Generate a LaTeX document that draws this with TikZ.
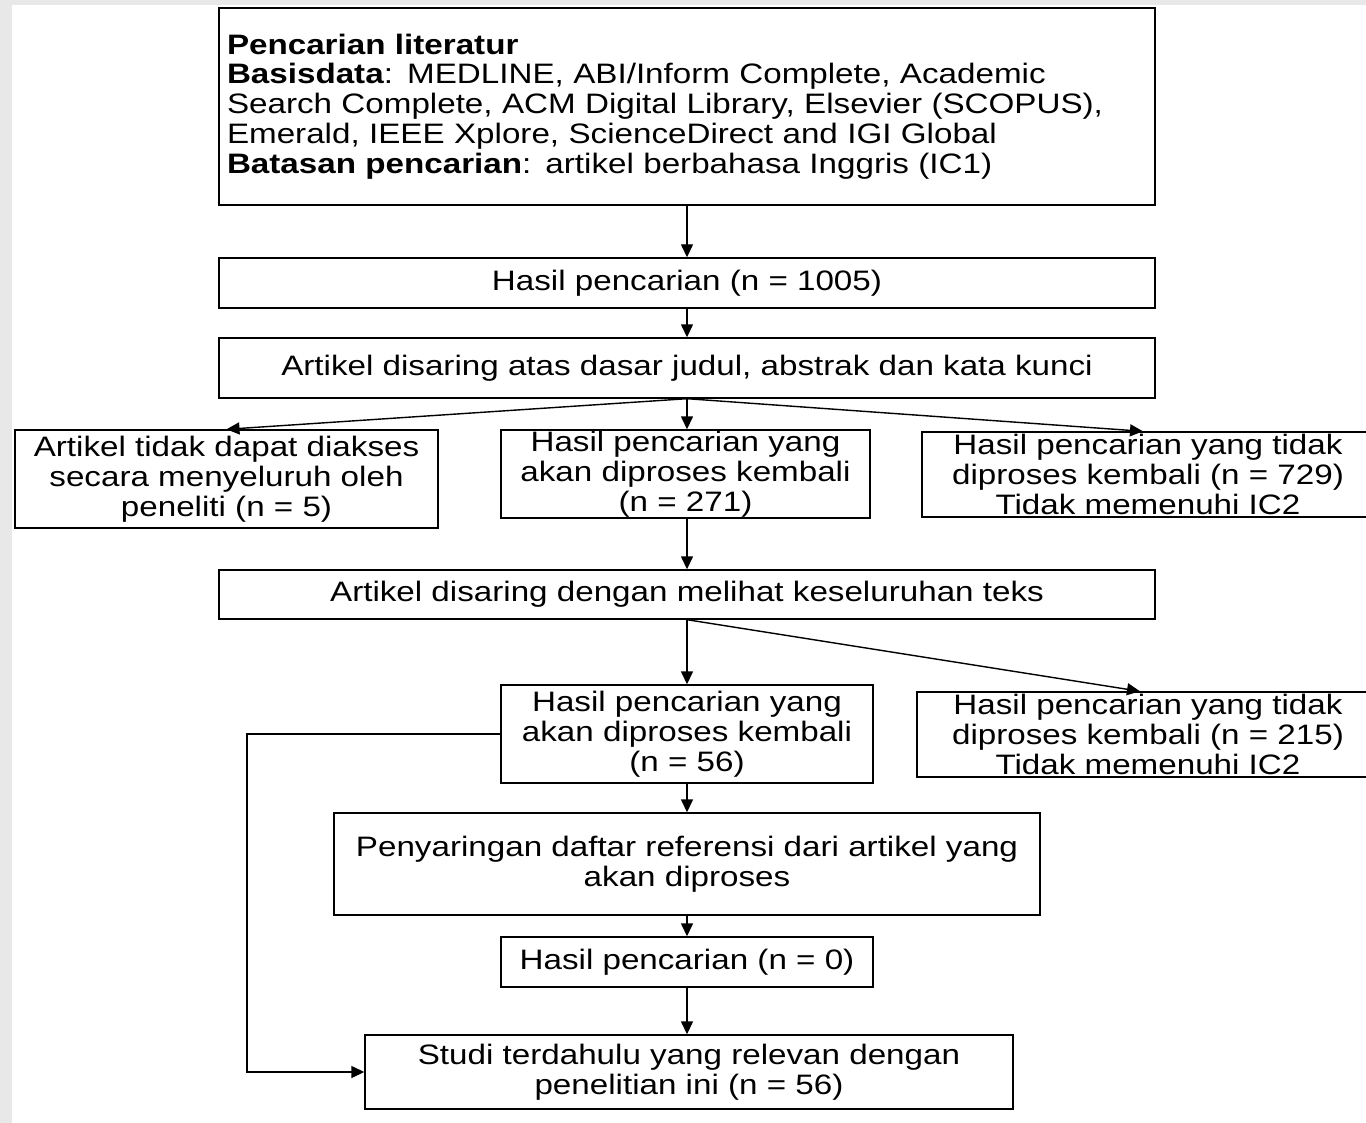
\documentclass[tikz,border=0pt]{standalone}
\usepackage{fontspec}
\setmainfont[FakeStretch=1.18]{Liberation Sans}
\usetikzlibrary{arrows.meta}
\begin{document}
\begin{tikzpicture}[
        kotak/.style={draw, line width=0.8pt, inner sep=0pt, align=center,
            font=\fontsize{16}{17}\selectfont},
        >={Triangle[length=2.6mm,width=2.4mm]}, line width=0.8pt]
            \fill[gray!18] (0,0) rectangle (27.32,-22.46);
            \fill[white] (0.24,-0.1) rectangle (27.32,-22.46);
            \useasboundingbox (0,0) rectangle (27.32,-22.46);

            \node[kotak,minimum width=18.72cm,minimum height=3.94cm,align=left,text width=18.4cm] (cari) at (13.74, -2.13)
                {\textbf{Pencarian literatur}\\
                 \textbf{Basisdata}: MEDLINE, ABI/Inform Complete, Academic\\
                 Search Complete, ACM Digital Library, Elsevier (SCOPUS),\\
                 Emerald, IEEE Xplore, ScienceDirect and IGI Global\\
                 \textbf{Batasan pencarian}: artikel berbahasa Inggris (IC1)};
            \node[kotak,minimum width=18.72cm,minimum height=1.0cm] (hasil1) at (13.74, -5.66) {Hasil pencarian (n = 1005)};
            \node[kotak,minimum width=18.72cm,minimum height=1.2cm] (saring1) at (13.74, -7.36) {Artikel disaring atas dasar judul, abstrak dan kata kunci};

            \node[kotak,minimum width=8.46cm,minimum height=1.96cm] (akses) at (4.53, -9.58)
                {Artikel tidak dapat diakses\\ secara menyeluruh oleh\\ peneliti (n = 5)};
            \node[kotak,minimum width=7.38cm,minimum height=1.76cm] (lanjut1) at (13.71, -9.48)
                {Hasil pencarian yang\\ akan diproses kembali\\ (n = 271)};
            \node[kotak,minimum width=9.04cm,minimum height=1.7cm] (tolak1) at (22.96, -9.49)
                {Hasil pencarian yang tidak\\ diproses kembali (n = 729)\\ Tidak memenuhi IC2};

            \node[kotak,minimum width=18.72cm,minimum height=0.98cm] (saring2) at (13.74, -11.89) {Artikel disaring dengan melihat keseluruhan teks};

            \node[kotak,minimum width=7.44cm,minimum height=1.96cm] (lanjut2) at (13.74, -14.68)
                {Hasil pencarian yang\\ akan diproses kembali\\ (n = 56)};
            \node[kotak,minimum width=9.24cm,minimum height=1.7cm] (tolak2) at (22.96, -14.69)
                {Hasil pencarian yang tidak\\ diproses kembali (n = 215)\\ Tidak memenuhi IC2};

            \node[kotak,minimum width=14.12cm,minimum height=2.04cm] (referensi) at (13.74, -17.28)
                {Penyaringan daftar referensi dari artikel yang\\ akan diproses};
            \node[kotak,minimum width=7.44cm,minimum height=1.0cm] (hasil0) at (13.74, -19.24) {Hasil pencarian (n = 0)};
            \node[kotak,minimum width=12.96cm,minimum height=1.48cm] (studi) at (13.78, -21.44)
                {Studi terdahulu yang relevan dengan\\ penelitian ini (n = 56)};

            \coordinate (tepi) at (4.94, 0);

            \draw[->] (cari) -- (hasil1);
            \draw[->] (hasil1) -- (saring1);
            \draw[->] (saring1.south) -- (akses.north);
            \draw[->] (saring1.south) -- (saring1.south |- lanjut1.north);
            \draw[->] (saring1.south) -- ([xshift=-0.1cm]tolak1.north);
            \draw[->] (saring1.south |- lanjut1.south) -- (saring2);
            \draw[->] (saring2.south) -- (lanjut2.north);
            \draw[->] (saring2.south) -- ([xshift=-0.16cm]tolak2.north);
            \draw[->] (lanjut2) -- (referensi);
            \draw[->] (referensi) -- (hasil0);
            \draw[->] (hasil0.south) -- (hasil0.south |- studi.north);
            \draw[->] (lanjut2.west) -- (lanjut2.west -| tepi) |- (studi.west);

        \end{tikzpicture}
\end{document}
